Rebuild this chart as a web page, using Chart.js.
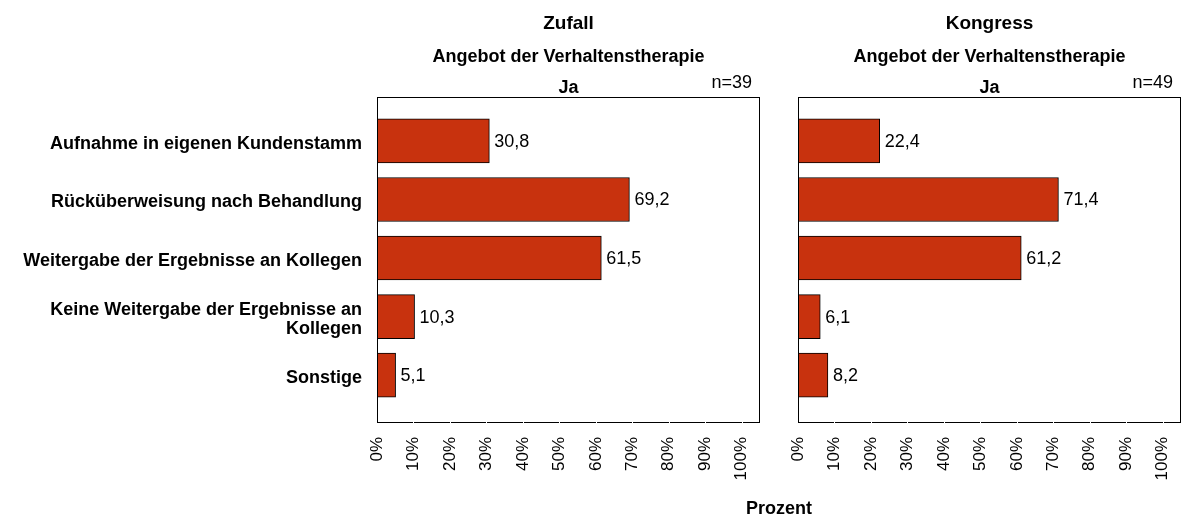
<!DOCTYPE html>
<html lang="de">
<head>
    <meta charset="UTF-8">
    <title>Angebot der Verhaltenstherapie</title>
    <style>
        body { margin: 0; background: #fff; }
        .wrap { position: relative; width: 1182px; height: 521px; }
        canvas { position: absolute; top: 0; }
        #xTitle { position: absolute; left: 0; width: 1182px; top: 498px; padding-left: 376px; box-sizing: border-box;
                  text-align: center; font: bold 18px "Liberation Sans", Arial, sans-serif; color: #000; }
    </style>
</head>
<body>
    <div class="wrap">
        <canvas id="chartZufall" width="770" height="521" style="left:0"></canvas>
        <canvas id="chartKongress" width="402" height="521" style="left:780px"></canvas>
        <div id="xTitle">Prozent</div>
    </div>

    <script src="https://cdn.jsdelivr.net/npm/chart.js"></script>
    <script>
        // data
        const categories = [
            "Aufnahme in eigenen Kundenstamm",
            "Rücküberweisung nach Behandlung",
            "Weitergabe der Ergebnisse an Kollegen",
            ["Keine Weitergabe der Ergebnisse an", "Kollegen"],
            "Sonstige"
        ];
        const zufallValues = [30.8, 69.2, 61.5, 10.3, 5.1];
        const kongressValues = [22.4, 71.4, 61.2, 6.1, 8.2];
        const xTickValues = [0, 10, 20, 30, 40, 50, 60, 70, 80, 90, 100];

        const FONT = "'Liberation Sans', Arial, sans-serif";
        const BAR_COLOR = "#c8320e";

        // headers, value labels and the frame round the plot area
        const panelPlugin = {
            id: "panel",
            afterDraw(chart, args, opts) {
                const ctx = chart.ctx;
                const a = chart.chartArea;
                const cx = (a.left + a.right) / 2;
                ctx.save();
                ctx.fillStyle = "#000";
                ctx.textBaseline = "alphabetic";
                ctx.textAlign = "center";
                ctx.font = "bold 19px " + FONT;
                ctx.fillText(opts.title, cx, 29);
                ctx.font = "bold 18px " + FONT;
                ctx.fillText("Angebot der Verhaltenstherapie", cx, 62);
                ctx.fillText("Ja", cx, 93);
                ctx.textAlign = "right";
                ctx.font = "18px " + FONT;
                ctx.fillText(opts.n, a.right - 8, 88);

                // value labels
                const meta = chart.getDatasetMeta(0);
                const vals = chart.data.datasets[0].data;
                ctx.textAlign = "left";
                ctx.textBaseline = "middle";
                meta.data.forEach((bar, i) => {
                    ctx.fillText(vals[i].x.toFixed(1).replace(".", ","), bar.x + 5, bar.y + 1);
                });

                // frame
                ctx.strokeStyle = "#000";
                ctx.lineWidth = 1;
                ctx.strokeRect(Math.round(a.left) + 0.5, Math.round(a.top) + 0.5,
                    Math.round(a.right - a.left) - 1, Math.round(a.bottom - a.top));

                // small white notches at the ticks on the bottom line
                const xs = chart.scales.x;
                ctx.fillStyle = "#fff";
                xTickValues.forEach(v => {
                    if (v === 0) return;
                    const px = Math.round(xs.getPixelForValue(v));
                    ctx.fillRect(px, Math.round(a.bottom) - 1, 1, 3);
                });
                ctx.restore();
            }
        };

        function makeChart(canvasId, values, title, n, showLabels) {
            const ctx = document.getElementById(canvasId);
            return new Chart(ctx, {
                type: "bar",
                data: {
                    datasets: [{
                        data: values.map((v, i) => ({ x: v, y: i })),
                        backgroundColor: BAR_COLOR,
                        borderColor: "#000",
                        borderWidth: 1,
                        barThickness: 44
                    }]
                },
                options: {
                    indexAxis: "y",
                    responsive: false,
                    animation: false,
                    layout: {
                        padding: { top: 97, bottom: 19, left: 0, right: showLabels ? 10 : 1 }
                    },
                    scales: {
                        x: {
                            type: "linear",
                            min: 0,
                            max: 105,
                            grid: { display: false, drawTicks: false },
                            border: { display: false },
                            afterBuildTicks: s => { s.ticks = xTickValues.map(v => ({ value: v })); },
                            afterFit: s => { s.height = 80; s.paddingLeft = 0; s.paddingRight = 0; },
                            ticks: {
                                callback: v => v + "%",
                                maxRotation: 90,
                                minRotation: 90,
                                padding: 15,
                                color: "#000",
                                font: { family: FONT, size: 17 }
                            }
                        },
                        y: {
                            type: "linear",
                            reverse: true,
                            offset: false,
                            min: -0.75,
                            max: 4.8,
                            grid: { display: false, drawTicks: false },
                            border: { display: false },
                            afterBuildTicks: s => { s.ticks = categories.map((c, i) => ({ value: i })); },
                            afterFit: s => { s.width = showLabels ? 377 : 18; s.paddingTop = 0; s.paddingBottom = 0; },
                            ticks: {
                                display: showLabels,
                                callback: v => categories[v],
                                padding: 15,
                                labelOffset: 3,
                                color: "#000",
                                font: { family: FONT, size: 18, weight: "bold", lineHeight: 1.1 }
                            }
                        }
                    },
                    plugins: {
                        legend: { display: false },
                        tooltip: { enabled: false },
                        panel: { title: title, n: n }
                    }
                },
                plugins: [panelPlugin]
            });
        }

        makeChart("chartZufall", zufallValues, "Zufall", "n=39", true);
        makeChart("chartKongress", kongressValues, "Kongress", "n=49", false);
    </script>
</body>
</html>
